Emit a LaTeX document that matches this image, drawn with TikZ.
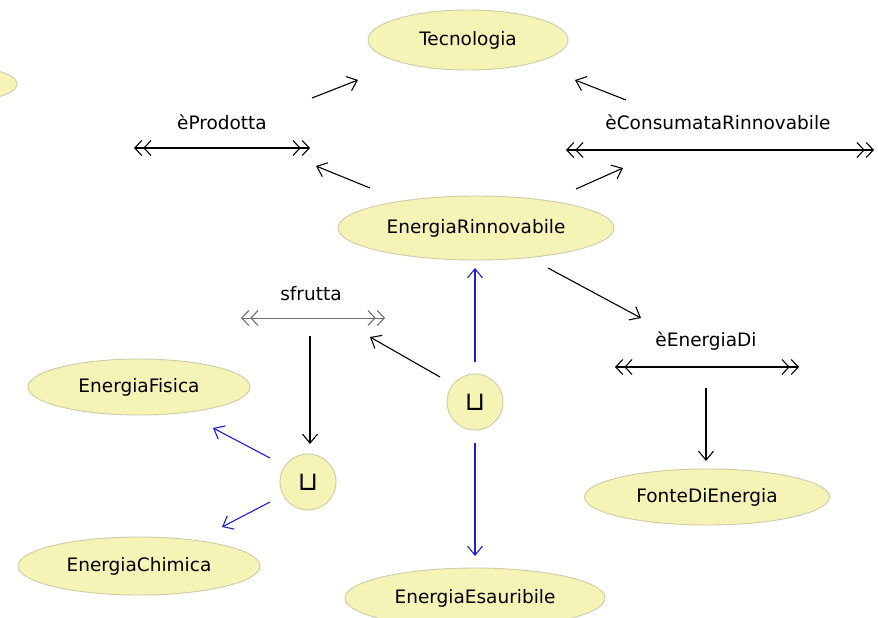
\documentclass[tikz,border=0pt]{standalone}
\usepackage{fontspec}
\setmainfont{DejaVu Sans}
\usetikzlibrary{arrows.meta,shapes.geometric}
\definecolor{fillY}{RGB}{245,243,182}
\definecolor{edgeY}{RGB}{205,204,165}
\definecolor{blueA}{RGB}{30,30,205}
\definecolor{grayL}{RGB}{110,110,110}
\tikzset{
  cls/.style={ellipse, draw=edgeY, fill=fillY, line width=0.9pt, inner sep=0pt,
    font=\fontsize{18.5}{21}\selectfont},
  unionnode/.style={circle, draw=edgeY, fill=fillY, line width=0.9pt, minimum size=56pt, inner sep=0pt,
    font=\fontsize{26}{28}\selectfont},
  proplabel/.style={inner sep=0pt, font=\fontsize{18.5}{21}\selectfont},
  chev/.tip={Straight Barb[length=7pt,width=15pt,line width=1.1pt,sep=1pt]},
  proprel/.style={line width=1.4pt, {chev[]chev[]}-{chev[]chev[]}},
  proprelthin/.style={draw=grayL, line width=0.7pt, {chev[]chev[]}-{chev[]chev[]}},
  arr/.style={line width=1.1pt, -{Straight Barb[length=9pt,width=15pt,line width=1.1pt]}},
  barr/.style={arr, draw=blueA},
}
\begin{document}
\begin{tikzpicture}[x=1pt,y=-1pt]
\useasboundingbox (0,0) rectangle (878,618);
\fill[white] (0,0) rectangle (878,618);
\clip (0,0) rectangle (878,618);

% classes
\node[cls, minimum width=154pt, minimum height=40pt] (left) at (-60,84) {};
\node[cls, minimum width=200pt, minimum height=60pt] (tec) at (468,40) {Tecnologia};
\node[cls, minimum width=276pt, minimum height=64pt] (rin) at (476,228) {EnergiaRinnovabile};
\node[cls, minimum width=222pt, minimum height=56pt] (fis) at (139,387) {EnergiaFisica};
\node[cls, minimum width=242pt, minimum height=58pt] (chi) at (139,566) {EnergiaChimica};
\node[cls, minimum width=260pt, minimum height=60pt] (esa) at (475,598) {EnergiaEsauribile};
\node[cls, minimum width=245pt, minimum height=56pt] (fon) at (707,497) {FonteDiEnergia};

% unions
\node[unionnode] (u1) at (475,402) {⊔};
\node[unionnode] (u2) at (308,482) {⊔};

% properties
\node[proplabel] (prod) at (222,122) {èProdotta};
\coordinate (pL) at (133,148); \coordinate (pR) at (311,148);
\draw[proprel] (pL) -- (pR);

\node[proplabel] (cons) at (718,122) {èConsumataRinnovabile};
\coordinate (cL) at (565,150); \coordinate (cR) at (875,150);
\draw[proprel] (cL) -- (cR);

\node[proplabel] (sfr) at (311,294) {sfrutta};
\coordinate (sL) at (240,318); \coordinate (sR) at (386,318);
\draw[proprelthin] (sL) -- (sR);

\node[proplabel] (edi) at (706,341) {èEnergiaDi};
\coordinate (eL) at (614,367); \coordinate (eR) at (800,367);
\draw[proprel] (eL) -- (eR);

% connector end points
\coordinate (a1s) at (312,98);  \coordinate (a1e) at (358,80);
\coordinate (a2s) at (370,188); \coordinate (a2e) at (316,166);
\coordinate (a3s) at (626,100); \coordinate (a3e) at (575,80);
\coordinate (a4s) at (576,189); \coordinate (a4e) at (623,168);
\coordinate (a5s) at (310,336); \coordinate (a5e) at (310,444);
\coordinate (a6s) at (270,458); \coordinate (a6e) at (213,428);
\coordinate (a7s) at (270,502); \coordinate (a7e) at (222,527);
\coordinate (a8s) at (475,362); \coordinate (a8e) at (475,268);
\coordinate (a9s) at (475,443); \coordinate (a9e) at (475,556);
\coordinate (a10s) at (440,377); \coordinate (a10e) at (370,337);
\coordinate (a11s) at (548,268); \coordinate (a11e) at (641,318);
\coordinate (a12s) at (706,388); \coordinate (a12e) at (706,461);

\draw[arr] (a1s) -- (a1e);
\draw[arr] (a2s) -- (a2e);
\draw[arr] (a3s) -- (a3e);
\draw[arr] (a4s) -- (a4e);
\draw[arr] (a5s) -- (a5e);
\draw[barr] (a6s) -- (a6e);
\draw[barr] (a7s) -- (a7e);
\draw[barr] (a8s) -- (a8e);
\draw[barr] (a9s) -- (a9e);
\draw[arr] (a10s) -- (a10e);
\draw[arr] (a11s) -- (a11e);
\draw[arr] (a12s) -- (a12e);
\end{tikzpicture}
\end{document}
